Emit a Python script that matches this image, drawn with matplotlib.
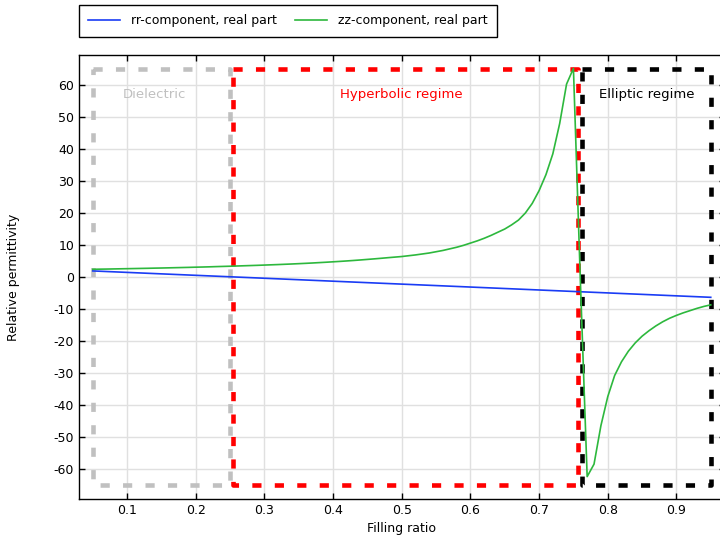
import numpy as np
import matplotlib
matplotlib.use("Agg")
import matplotlib.pyplot as plt

plt.rcParams['font.family'] = ['DejaVu Sans']
plt.rcParams['axes.unicode_minus'] = False

# filling ratio grid for the zz-component
fill = [round(0.05 + 0.01 * i, 2) for i in range(91)]
zz_real = [
    2.41, 2.45, 2.48, 2.52, 2.56, 2.60, 2.64, 2.68, 2.72, 2.77,   # 0.05 - 0.14
    2.81, 2.86, 2.91, 2.96, 3.01, 3.07, 3.12, 3.18, 3.25, 3.31,   # 0.15 - 0.24
    3.37, 3.44, 3.51, 3.58, 3.65, 3.73, 3.81, 3.89, 3.98, 4.07,   # 0.25 - 0.34
    4.17, 4.27, 4.38, 4.50, 4.62, 4.75, 4.88, 5.02, 5.17, 5.33,   # 0.35 - 0.44
    5.50, 5.67, 5.85, 6.04, 6.22, 6.40, 6.65, 6.90, 7.20, 7.50,   # 0.45 - 0.54
    7.90, 8.30, 8.80, 9.30, 9.90, 10.6, 11.3, 12.1, 13.0, 14.0,   # 0.55 - 0.64
    15.0, 16.3, 17.8, 20.0, 23.0, 27.0, 32.0, 38.5, 48.0, 60.3,   # 0.65 - 0.74
    65.2, -0.5, -62.4, -58.5, -46.5, -37.4, -30.8, -26.5, -23.2, -20.6,  # 0.75 - 0.84
    -18.5, -16.8, -15.3, -14.0, -12.9, -12.0, -11.2, -10.5, -9.8, -9.2,  # 0.85 - 0.94
    -8.7,                                                          # 0.95
]

# rr-component (straight line in the picture)
fill_rr = [0.05, 0.15, 0.25, 0.35, 0.45, 0.55, 0.65, 0.75, 0.85, 0.95]
rr_real = [1.9, 0.98, 0.07, -0.85, -1.77, -2.68, -3.6, -4.52, -5.43, -6.35]

# regime boxes
region_names = ['Dielectric', 'Hyperbolic regime', 'Elliptic regime']
region_start = [0.05, 0.254, 0.763]
region_end = [0.25, 0.757, 0.951]
region_colors = ['#c0c0c0', '#ff0000', '#000000']
label_x = [0.14, 0.50, 0.857]
box_top = 65
box_bottom = -65

fig = plt.figure(figsize=(7.2, 5.38), dpi=100)
ax = fig.add_axes([79 / 720, 1 - 499 / 538, (724.5 - 79) / 720, (499 - 55) / 538])

ax.grid(True, color='#e0e0e0', lw=1)
ax.set_axisbelow(True)

for x0, x1, c in zip(region_start, region_end, region_colors):
    ax.plot([x0, x1, x1, x0, x0], [box_top, box_top, box_bottom, box_bottom, box_top],
            color=c, lw=3.3, linestyle=(0, (2.0, 2.9)), zorder=3)

ax.plot(fill_rr, rr_real, color='#1a3cf5', lw=1.2, label='rr-component, real part', zorder=4)
ax.plot(fill, zz_real, color='#2db83d', lw=1.2, label='zz-component, real part', zorder=4)

for name, lx, c in zip(region_names, label_x, region_colors):
    ax.text(lx, 57, name, color=c, fontsize=9.5, ha='center', va='center', zorder=5)

ax.set_xlim(0.03, 0.97)
ax.set_ylim(-69.4, 69.4)
ax.set_xticks([0.1, 0.2, 0.3, 0.4, 0.5, 0.6, 0.7, 0.8, 0.9])
ax.set_yticks(list(range(-60, 70, 10)))
ax.tick_params(direction='in', top=True, right=True, length=4, width=1, labelsize=9)
for s in ax.spines.values():
    s.set_linewidth(1.0)

ax.set_xlabel('Filling ratio', fontsize=9)
ax.set_ylabel('Relative permittivity', fontsize=9, labelpad=24)

handles, labels = ax.get_legend_handles_labels()
fig.legend(handles, labels, loc='upper left', bbox_to_anchor=(79 / 720, 1 - 5 / 538),
           borderaxespad=0, ncol=2, fontsize=9, frameon=True, fancybox=False,
           edgecolor='black', framealpha=1, handlelength=2.56, handletextpad=0.88,
           columnspacing=1.44, borderpad=0.75)

fig.savefig('out.png', dpi=100)
